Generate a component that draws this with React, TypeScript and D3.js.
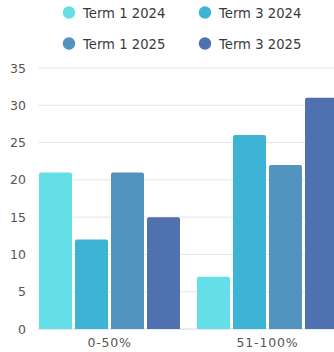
import React from "react";
import * as d3 from "d3";

const categories = ["0-50%", "51-100%"];
const seriesNames = ["Term 1 2024", "Term 3 2024", "Term 1 2025", "Term 3 2025"];
const term1_2024 = [21, 7];
const term3_2024 = [12, 26];
const term1_2025 = [21, 22];
const term3_2025 = [15, 31];
const yTicks = [0, 5, 10, 15, 20, 25, 30, 35];
const colors = ["#64dfe7", "#3db4d5", "#5293bf", "#4f71af"];

const seriesValues = [term1_2024, term3_2024, term1_2025, term3_2025];

const W = 334;
const H = 352;
const FONT = "'DejaVu Sans', sans-serif";

function topRoundedRect(x: number, y: number, w: number, h: number, r: number) {
  const rr = Math.min(r, h / 2, w / 2);
  return `M${x},${y + h}V${y + rr}Q${x},${y} ${x + rr},${y}H${x + w - rr}Q${x + w},${y} ${x + w},${y + rr}V${y + h}Z`;
}

export default function App() {
  const y = d3.scaleLinear().domain([0, 35]).range([329, 68]);
  const x0 = d3
    .scaleBand<string>()
    .domain(categories)
    .range([38, 339])
    .paddingInner(17 / 158)
    .paddingOuter(1 / 158);
  const x1 = d3
    .scaleBand<string>()
    .domain(seriesNames)
    .range([0, x0.bandwidth()])
    .paddingInner(3 / 36)
    .paddingOuter(0);

  const legendPos = [
    { x: 69, y: 12.5 },
    { x: 205, y: 12.5 },
    { x: 69, y: 43.5 },
    { x: 205, y: 43.5 },
  ];

  return (
    <svg
      width={W}
      height={H}
      style={{ position: "absolute", left: 0, top: 0, background: "#fff" }}
    >
      {/* legend */}
      {seriesNames.map((name, i) => (
        <g key={name}>
          <circle cx={legendPos[i].x} cy={legendPos[i].y} r={6.2} fill={colors[i]} />
          <text
            x={legendPos[i].x + 14}
            y={legendPos[i].y + 5}
            fontFamily={FONT}
            fontSize={13.2}
            fill="#3a3a3a"
          >
            {name}
          </text>
        </g>
      ))}

      {/* grid + y axis labels */}
      {yTicks.map((t) => (
        <g key={t}>
          <line
            x1={38}
            x2={W}
            y1={y(t)}
            y2={y(t)}
            stroke={t === 0 ? "#d8d8d8" : "#e6e6e6"}
            strokeWidth={1}
          />
          <text
            x={26}
            y={y(t) + 4.5}
            textAnchor="end"
            fontFamily={FONT}
            fontSize={12.5}
            fill="#555"
          >
            {t}
          </text>
        </g>
      ))}

      {/* bars */}
      {categories.map((c, ci) => (
        <g key={c} transform={`translate(${x0(c)},0)`}>
          {seriesNames.map((s, si) => {
            const v = seriesValues[si][ci];
            const bx = x1(s) as number;
            return (
              <path
                key={s}
                d={topRoundedRect(bx, y(v), x1.bandwidth(), y(0) - y(v), 2)}
                fill={colors[si]}
              />
            );
          })}
        </g>
      ))}

      {/* x axis labels */}
      {categories.map((c) => (
        <text
          key={c}
          x={(x0(c) as number) + x0.bandwidth() / 2}
          y={347}
          textAnchor="middle"
          fontFamily={FONT}
          fontSize={12.5}
          letterSpacing={0.8}
          fill="#555"
        >
          {c}
        </text>
      ))}
    </svg>
  );
}
